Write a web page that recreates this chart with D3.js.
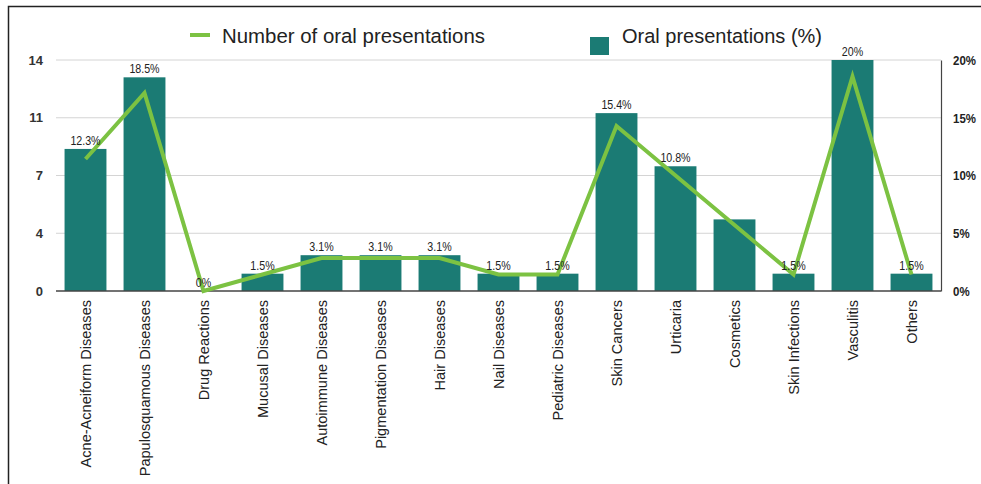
<!DOCTYPE html>
<html><head><meta charset="utf-8">
<script src="https://cdn.jsdelivr.net/npm/d3@7"></script>
<style>body{margin:0;background:#fff}svg{display:block}</style>
</head><body>
<svg id="c" width="981" height="484"></svg>
<script>
const categories = ["Acne-Acneiform Diseases","Papulosquamous Diseases","Drug Reactions","Mucusal Diseases","Autoimmune Diseases","Pigmentation Diseases","Hair Diseases","Nail Diseases","Pediatric Diseases","Skin Cancers","Urticaria","Cosmetics","Skin Infections","Vasculitis","Others"];
const counts = [8,12,0,1,2,2,2,1,1,10,7,4,1,13,1];
const percents = [12.3,18.5,0,1.5,3.1,3.1,3.1,1.5,1.5,15.4,10.8,6.2,1.5,20,1.5];
const percentLabels = ["12.3%","18.5%","0%","1.5%","3.1%","3.1%","3.1%","1.5%","1.5%","15.4%","10.8%","","1.5%","20%","1.5%"];
const leftTicks = [0,3.5,7,10.5,14];
const leftTickLabels = ["0","4","7","11","14"];
const rightTicks = [0,5,10,15,20];
const legendLabels = ["Number of oral presentations","Oral presentations (%)"];

const svg = d3.select("#c");
const L=56, R=941, T=60, B=291;
const teal="#1b7b74", green="#7cc242";
const sans = "'Liberation Sans',Arial,Helvetica,sans-serif";

function squeeze(sel, f){
  sel.each(function(){
    const len = this.getComputedTextLength();
    if(len>0) d3.select(this).attr("textLength",len*f).attr("lengthAdjust","spacingAndGlyphs");
  });
}

// frame
svg.append("rect").attr("x",8.5).attr("y",6.5).attr("width",1000).attr("height",1000)
  .attr("fill","none").attr("stroke","#222").attr("stroke-width",1.5);

const x = d3.scaleBand().domain(categories).range([L,R]).paddingInner(0.29).paddingOuter(0.145);
const yL = d3.scaleLinear().domain([0,14]).range([B,T]);
const yR = d3.scaleLinear().domain([0,20]).range([B,T]);

// gridlines
svg.append("g").selectAll("line").data(leftTicks.slice(1)).join("line")
  .attr("x1",L).attr("x2",R).attr("y1",d=>yL(d)).attr("y2",d=>yL(d))
  .attr("stroke","#d4d4d4").attr("stroke-width",1);

// left axis
const la = svg.append("g").attr("transform",`translate(${L-13},0)`)
  .call(d3.axisLeft(yL).tickValues(leftTicks).tickFormat((d,i)=>leftTickLabels[i]).tickSize(0).tickPadding(0));
la.select(".domain").remove();
la.selectAll("text").attr("font-family",sans).attr("font-size",13).attr("font-weight","bold").attr("fill","#333");

// right axis
const ra = svg.append("g").attr("transform",`translate(${R},0)`)
  .call(d3.axisRight(yR).tickValues(rightTicks).tickFormat(d=>d+"%").tickSize(0).tickPadding(12));
ra.select(".domain").attr("stroke","#444").attr("stroke-width",1.2);
ra.selectAll("text").attr("font-family",sans).attr("font-size",13.5).attr("font-weight","bold").attr("fill","#222")
  .call(squeeze,0.85);

// bars
svg.append("g").selectAll("rect").data(categories).join("rect")
  .attr("x",d=>x(d)).attr("width",x.bandwidth())
  .attr("y",(d,i)=>yR(percents[i])).attr("height",(d,i)=>B-yR(percents[i]))
  .attr("fill",teal);

// baseline
svg.append("line").attr("x1",L).attr("x2",R).attr("y1",B).attr("y2",B).attr("stroke","#444").attr("stroke-width",1.5);

// line
const line = d3.line().x((d,i)=>x(categories[i])+x.bandwidth()/2).y(d=>yL(d));
svg.append("path").datum(counts).attr("d",line).attr("fill","none").attr("stroke",green)
  .attr("stroke-width",4).attr("stroke-linejoin","miter");

// bar labels
svg.append("g").selectAll("text").data(categories).join("text")
  .attr("x",d=>x(d)+x.bandwidth()/2).attr("y",(d,i)=>yR(percents[i])-4)
  .attr("text-anchor","middle").attr("font-family",sans).attr("font-size",13).attr("fill","#222")
  .text((d,i)=>percentLabels[i]).call(squeeze,0.82);

// category labels
const xa = svg.append("g").attr("transform",`translate(0,${B})`)
  .call(d3.axisBottom(x).tickSize(0).tickPadding(0));
xa.select(".domain").remove();
xa.selectAll("text").attr("transform","rotate(-90)").attr("text-anchor","end")
  .attr("x",-9).attr("y",0).attr("dy","0.35em")
  .attr("font-family",sans).attr("font-size",15).attr("fill","#222")
  .call(squeeze,0.97);

// legend
svg.append("line").attr("x1",190).attr("x2",210).attr("y1",35).attr("y2",35).attr("stroke",green).attr("stroke-width",4);
svg.append("text").attr("x",222).attr("y",42.5).attr("font-family",sans).attr("font-size",20.5).attr("fill","#222")
  .attr("textLength",263).attr("lengthAdjust","spacingAndGlyphs").text(legendLabels[0]);
svg.append("rect").attr("x",590).attr("y",37).attr("width",19).attr("height",18).attr("fill",teal);
svg.append("text").attr("x",622).attr("y",42.5).attr("font-family",sans).attr("font-size",20.5).attr("fill","#222")
  .attr("textLength",200).attr("lengthAdjust","spacingAndGlyphs").text(legendLabels[1]);
</script>
</body></html>
